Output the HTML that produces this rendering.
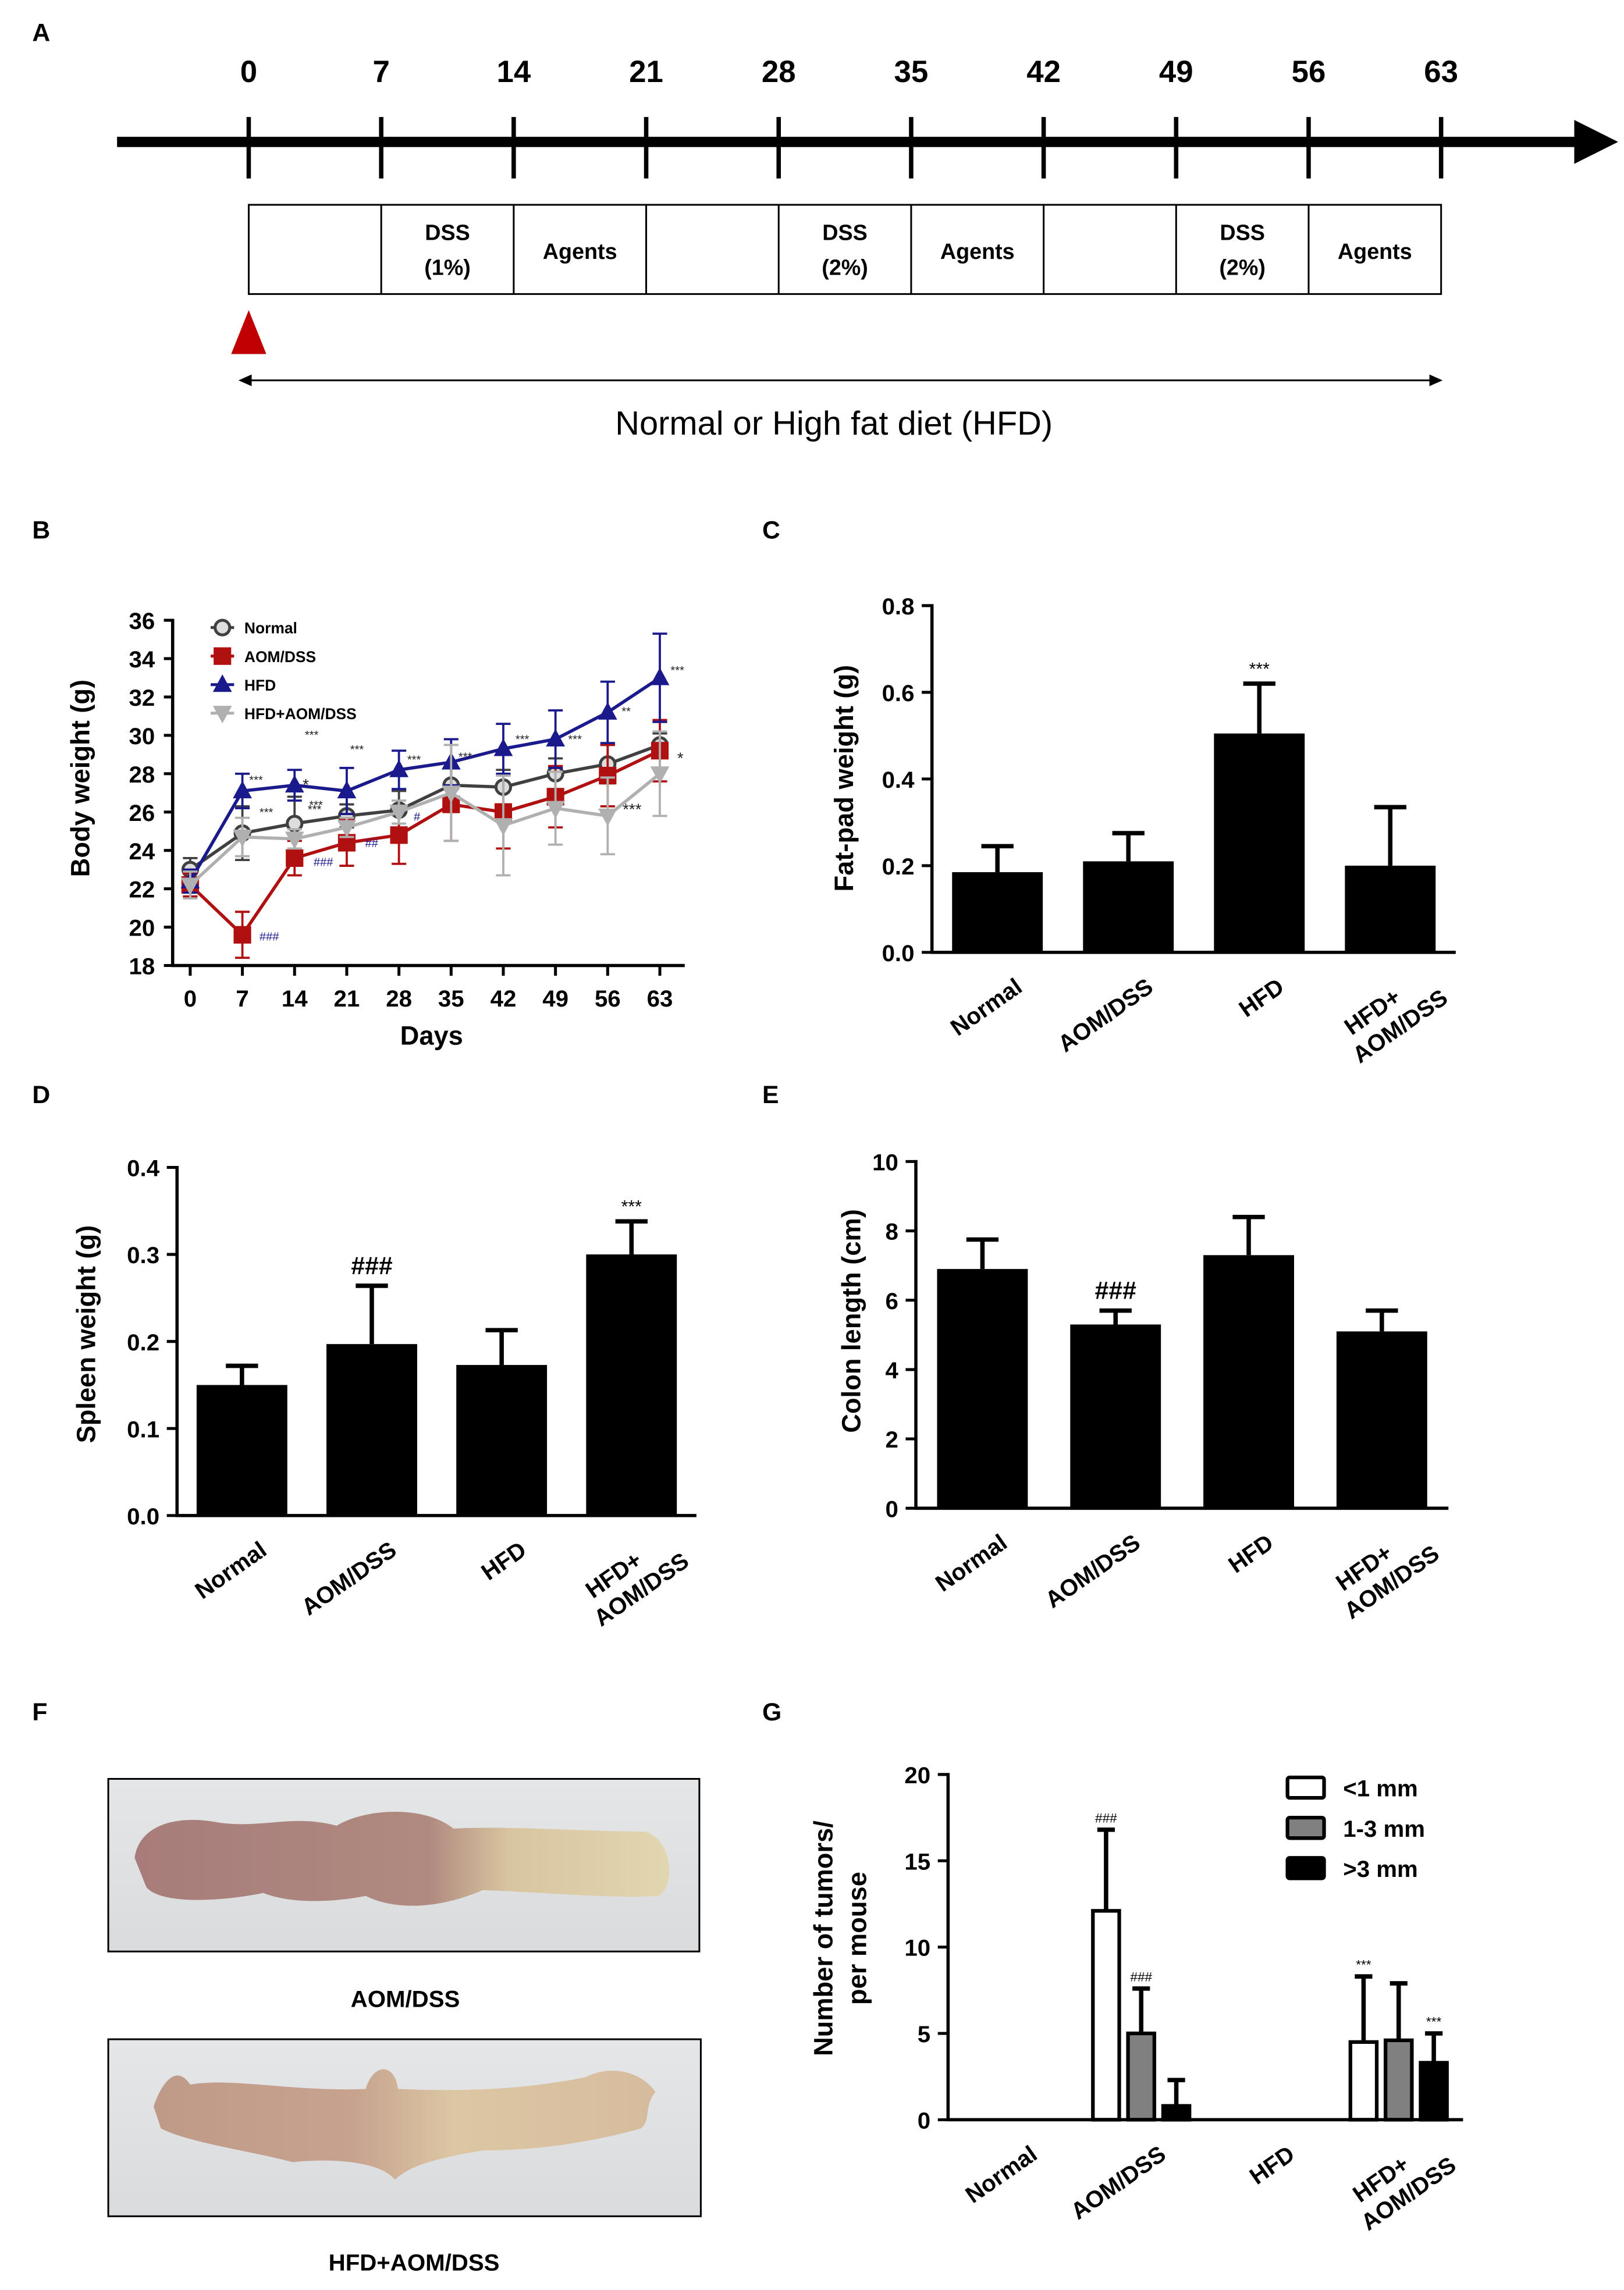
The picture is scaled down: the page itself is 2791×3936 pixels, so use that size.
<!DOCTYPE html>
<html><head><meta charset="utf-8"><style>
html,body{margin:0;padding:0;background:#fff;}
svg{display:block;font-family:"Liberation Sans",Arial,sans-serif;}
</style></head>
<body>
<svg id="fig" xmlns="http://www.w3.org/2000/svg" width="2791" height="3936" viewBox="0 0 1110 1565.4">
<defs>
<linearGradient id="bg1" x1="0" y1="0" x2="0" y2="1"><stop offset="0" stop-color="#e4e6e8"/><stop offset="1" stop-color="#d9dbdd"/></linearGradient>
<linearGradient id="colon1" x1="0" y1="0" x2="1" y2="0"><stop offset="0" stop-color="#a77c7a"/><stop offset="0.55" stop-color="#b08a80"/><stop offset="0.7" stop-color="#d8c5a0"/><stop offset="1" stop-color="#e2d6b0"/></linearGradient>
<linearGradient id="colon2" x1="0" y1="0" x2="1" y2="0"><stop offset="0" stop-color="#c09a88"/><stop offset="0.4" stop-color="#c7a38f"/><stop offset="0.6" stop-color="#dcc7a3"/><stop offset="1" stop-color="#d6bc9e"/></linearGradient>
</defs>
<g id="panelA"></g>
<g id="panelB"></g>
<g id="panelC"></g>
<g id="panelD"></g>
<g id="panelE"></g>
<g id="panelF">
  <rect x="74" y="1216" width="404" height="118" fill="url(#bg1)" stroke="#000" stroke-width="1.2"/>
  <path d="M92,1270 C95,1248 120,1240 150,1246 C180,1250 200,1240 230,1248 C250,1236 290,1234 310,1250 C350,1248 400,1252 440,1252 C460,1256 462,1290 450,1296 C420,1298 380,1294 330,1292 C300,1305 270,1306 250,1296 C230,1300 200,1302 180,1294 C150,1300 110,1302 100,1290 Z" fill="url(#colon1)"/>
  <text x="277" y="1372" text-anchor="middle" font-size="16" font-weight="bold">AOM/DSS</text>
  <rect x="74" y="1394" width="405" height="121" fill="url(#bg1)" stroke="#000" stroke-width="1.2"/>
  <path d="M105,1440 C110,1425 120,1410 130,1425 C160,1420 200,1430 250,1428 C255,1410 270,1410 272,1428 C320,1430 360,1428 400,1420 C420,1410 440,1418 448,1430 C440,1440 445,1450 438,1455 C420,1460 380,1470 330,1470 C300,1475 280,1480 270,1490 C260,1478 230,1475 200,1478 C170,1470 130,1465 110,1455 Z" fill="url(#colon2)"/>
  <text x="283" y="1552" text-anchor="middle" font-size="16" font-weight="bold">HFD+AOM/DSS</text>
</g>
<g id="panelG"></g>
</svg>
<script>
var NS='http://www.w3.org/2000/svg';
function mk(tag,attrs,parent,txt){var e=document.createElementNS(NS,tag);for(var k in attrs)e.setAttribute(k,attrs[k]);if(txt!==undefined)e.textContent=txt;parent.appendChild(e);return e;}
var fig=document.getElementById('fig');

// ---------- panel letters ----------
var panelLetters=['A','B','C','D','E','F','G'];
var letterX=[22,22,521,22,521,22,521];
var letterY=[28,368,368,754,754,1176,1176];
panelLetters.forEach(function(L,i){
  var t=mk('text',{x:letterX[i],y:letterY[i],'font-size':17,'font-weight':'bold'},fig,L);
  
  
});

// ---------- Panel A timeline ----------
var A=document.getElementById('panelA');
var timelineDays=[0,7,14,21,28,35,42,49,56,63];
var boxLabels=['','DSS|(1%)','Agents','','DSS|(2%)','Agents','','DSS|(2%)','Agents'];
function tx(d){return 170+d/63*815;}
var ln=mk('line',{x1:80,y1:97,x2:1080,y2:97,stroke:'#000','stroke-width':7},A);


var ah=mk('polygon',{points:'1076,82 1106,97 1076,112',fill:'#000'},A);


var box=mk('rect',{x:170,y:140,width:815,height:61,fill:'none',stroke:'#000','stroke-width':1.2},A);


timelineDays.forEach(function(d,i){
  var x=tx(d);
  var tk=mk('line',{x1:x,y1:80,x2:x,y2:122,stroke:'#000','stroke-width':3},A);
  
  
  var tl=mk('text',{x:x,y:56,'text-anchor':'middle','font-size':21,'font-weight':'bold'},A,String(d));
  
  
  if(i>0&&i<9){
    var dv=mk('line',{x1:x,y1:140,x2:x,y2:201,stroke:'#000','stroke-width':1.2},A);
    
    
  }
});
boxLabels.forEach(function(s,i){
  if(!s)return;
  var cx=(tx(timelineDays[i])+tx(timelineDays[i+1]))/2;
  var parts=s.split('|');
  var t=mk('text',{x:cx,'text-anchor':'middle','font-size':15,'font-weight':'bold'},A);
  
  
  if(parts.length===1){t.setAttribute('y',177);t.textContent=parts[0];}
  else{mk('tspan',{x:cx,y:164},t,parts[0]);mk('tspan',{x:cx,y:188},t,parts[1]);}
});
var tri=mk('polygon',{points:'170,212 158,242 182,242',fill:'#c00000'},A);


var dl=mk('line',{x1:168,y1:260,x2:982,y2:260,stroke:'#000','stroke-width':1.2},A);


var dh1=mk('polygon',{points:'163,260 172,256 172,264',fill:'#000'},A);


var dh2=mk('polygon',{points:'986,260 977,256 977,264',fill:'#000'},A);


var dt=mk('text',{x:570,y:297,'text-anchor':'middle','font-size':23},A,'Normal  or High fat diet (HFD)');


</script>

<script>
// ---------- Panel B body weight ----------
var bwDays=[0,7,14,21,28,35,42,49,56,63];
var bwTicks=[18,20,22,24,26,28,30,32,34,36];
var normalMean=[23.0,24.9,25.4,25.8,26.1,27.4,27.3,28.0,28.5,29.5];
var normalErr=[0.6,1.4,1.4,0.6,1.0,0.9,0.9,0.8,1.0,0.6];
var aomMean=[22.2,19.6,23.6,24.4,24.8,26.4,26.0,26.8,27.9,29.2];
var aomErr=[0.6,1.2,0.9,1.2,1.5,1.9,1.9,1.6,1.6,1.6];
var hfdMean=[22.4,27.1,27.4,27.1,28.2,28.6,29.3,29.8,31.2,33.0];
var hfdErr=[0.6,0.9,0.8,1.2,1.0,1.2,1.3,1.5,1.6,2.3];
var hfdAomMean=[22.2,24.7,24.6,25.2,26.0,27.0,25.3,26.2,25.8,28.0];
var hfdAomErr=[0.7,1.0,0.5,0.5,0.6,2.5,2.6,1.9,2.0,2.2];
(function(){
  var B=document.getElementById('panelB');
  function X(d){return 130+d/63*321;}
  function Y(v){return 660-(v-18)/18*236;}
  var ya=mk('line',{x1:118,y1:Y(36)-1,x2:118,y2:661,stroke:'#000','stroke-width':2.2},B);
  
  
  var xa=mk('line',{x1:117,y1:660,x2:468,y2:660,stroke:'#000','stroke-width':2.2},B);
  
  
  bwTicks.forEach(function(v){
    var t=mk('line',{x1:112,y1:Y(v),x2:118,y2:Y(v),stroke:'#000','stroke-width':2},B);
    
    
    var l=mk('text',{x:97,y:Y(v)+6,'text-anchor':'middle','font-size':16,'font-weight':'bold'},B,String(v));
    
    
  });
  bwDays.forEach(function(d){
    var t=mk('line',{x1:X(d),y1:660,x2:X(d),y2:667,stroke:'#000','stroke-width':2},B);
    
    
    var l=mk('text',{x:X(d),y:688,'text-anchor':'middle','font-size':16,'font-weight':'bold'},B,String(d));
    
    
  });
  var yl=mk('text',{x:0,y:0,transform:'translate(61,532) rotate(-90)','text-anchor':'middle','font-size':18,'font-weight':'bold'},B,'Body weight (g)');
  
  
  var xl=mk('text',{x:295,y:714,'text-anchor':'middle','font-size':18,'font-weight':'bold'},B,'Days');
  
  
  var series=[
    {name:'Normal',m:normalMean,e:normalErr,c:'#404040',mk:'circle'},
    {name:'AOM/DSS',m:aomMean,e:aomErr,c:'#b01010',mk:'square'},
    {name:'HFD',m:hfdMean,e:hfdErr,c:'#1a1a8c',mk:'tri'},
    {name:'HFD+AOM/DSS',m:hfdAomMean,e:hfdAomErr,c:'#b0b0b0',mk:'dtri'}
  ];
  function marker(s,x,y,g){
    var e;
    if(s.mk==='circle')e=mk('circle',{cx:x,cy:y,r:5,fill:'#ddd',stroke:s.c,'stroke-width':2},g);
    else if(s.mk==='square')e=mk('rect',{x:x-6,y:y-6,width:12,height:12,fill:s.c},g);
    else if(s.mk==='tri')e=mk('polygon',{points:(x)+','+(y-7)+' '+(x-6.5)+','+(y+5)+' '+(x+6.5)+','+(y+5),fill:s.c},g);
    else e=mk('polygon',{points:(x)+','+(y+7)+' '+(x-6.5)+','+(y-5)+' '+(x+6.5)+','+(y-5),fill:s.c},g);
    return e;
  }
  series.forEach(function(s,si){
    var g=mk('g',{},B);
    
    
    s.m.forEach(function(v,i){
      var x=X(bwDays[i]);
      var eb=mk('path',{d:'M'+x+','+Y(v-s.e[i])+'V'+Y(v+s.e[i])+'M'+(x-5)+','+Y(v-s.e[i])+'H'+(x+5)+'M'+(x-5)+','+Y(v+s.e[i])+'H'+(x+5),stroke:s.c,'stroke-width':1.5,fill:'none'},g);
      
      
    });
    var pts=s.m.map(function(v,i){return X(bwDays[i])+','+Y(v);}).join(' ');
    var pl=mk('polyline',{points:pts,fill:'none',stroke:s.c,'stroke-width':2.2},g);
    
    
    s.m.forEach(function(v,i){
      var p=marker(s,X(bwDays[i]),Y(v),g);
      
      
    });
    // legend
    var ly=429+si*19.5;
    var ll=mk('line',{x1:144,y1:ly,x2:160,y2:ly,stroke:s.c,'stroke-width':2},B);
    
    
    var lm=marker(s,152,ly,B);
    
    
    var lt=mk('text',{x:167,y:ly+4,'font-size':10.5,'font-weight':'bold'},B,s.name);
    
    
  });
  var annText=['###','###','##','#','***','***','***','***','***','***','***','**','***','***','***','***','*','***','*'];
  var annX=[184,221,254,285,175,213,244,283,318,357,393,428,463,182,216,215,209,432,465];
  var annY=[643,592,579,561,536,505,515,522,520,508,508,489,461,558,553,556,540,557,522];
  annText.forEach(function(s,i){
    var a=mk('text',{x:annX[i],y:annY[i],'text-anchor':'middle','font-size':s==='*'||s==='***'&&i>16?11:8,fill:i<4?'#1a1a8c':'#222'},B,s);
    
    
  });
})();
</script>

<script>
// ---------- bar charts C, D, E ----------
var groupNames=['Normal','AOM/DSS','HFD','HFD+|AOM/DSS'];
var fatPadValues=[0.185,0.21,0.505,0.2];
var fatPadErrors=[0.06,0.065,0.115,0.135];
var fatPadTicks=['0.0','0.2','0.4','0.6','0.8'];
var spleenValues=[0.15,0.197,0.173,0.30];
var spleenErrors=[0.022,0.067,0.04,0.038];
var spleenTicks=['0.0','0.1','0.2','0.3','0.4'];
var colonValues=[6.9,5.3,7.3,5.1];
var colonErrors=[0.85,0.4,1.1,0.6];
var colonTicks=['0','2','4','6','8','10'];
var tumorSmall=[0,12.1,0,4.5];
var tumorSmallErr=[0,4.7,0,3.8];
var tumorMid=[0,5.0,0,4.6];
var tumorMidErr=[0,2.6,0,3.3];
var tumorLarge=[0,0.8,0,3.3];
var tumorLargeErr=[0,1.5,0,1.7];
var tumorTicks=['0','5','10','15','20'];

function axes(P,cfg){
  var n=cfg.ticks.length-1;
  function Y(v){return cfg.y0-v/cfg.max*(cfg.y0-cfg.yTop);}
  var ya=mk('line',{x1:cfg.x0,y1:cfg.yTop-1,x2:cfg.x0,y2:cfg.y0+1,stroke:'#000','stroke-width':2.2},P);
  
  
  var xa=mk('line',{x1:cfg.x0-1,y1:cfg.y0,x2:cfg.x1,y2:cfg.y0,stroke:'#000','stroke-width':2.2},P);
  
  
  cfg.ticks.forEach(function(s){
    var v=parseFloat(s);
    var t=mk('line',{x1:cfg.x0-7,y1:Y(v),x2:cfg.x0,y2:Y(v),stroke:'#000','stroke-width':2},P);
    
    
    var l=mk('text',{x:cfg.x0-12,y:Y(v)+6,'text-anchor':'end','font-size':16,'font-weight':'bold'},P,s);
    
    
  });
  var lines=cfg.title.split('|');
  lines.forEach(function(s,i){
    var yl=mk('text',{x:0,y:0,transform:'translate('+(cfg.tx+i*23)+','+cfg.ty+') rotate(-90)','text-anchor':'middle','font-size':18,'font-weight':'bold'},P,s);
    
    
  });
  var bw=(cfg.x1-cfg.x0)/groupNames.length;
  groupNames.forEach(function(g,i){
    var cx=cfg.x0+bw*(i+0.5);
    var parts=g.split('|');
    var t=mk('text',{x:0,y:0,transform:'translate('+(cx+18)+','+(cfg.y0+26)+') rotate(-35)','text-anchor':'end','font-size':16,'font-weight':'bold'},P);
    
    
    if(parts.length===1){t.textContent=parts[0];}
    else{mk('tspan',{x:-12,y:0},t,parts[0]);mk('tspan',{x:14,y:19},t,parts[1]);}
  });
  return {Y:Y,bw:bw};
}
function barChart(id,cfg,vals,errs,marks){
  var P=document.getElementById(id);
  var a=axes(P,cfg);
  vals.forEach(function(v,i){
    var cx=cfg.x0+a.bw*(i+0.5);
    var w=62;
    var top=a.Y(v+errs[i]);
    var eb=mk('path',{d:'M'+cx+','+a.Y(v)+'V'+top+'M'+(cx-11)+','+top+'H'+(cx+11),stroke:'#000','stroke-width':3,fill:'none'},P);
    
    
    var r=mk('rect',{x:cx-w/2,y:a.Y(v),width:w,height:cfg.y0-a.Y(v),fill:'#000'},P);
    
    
    if(marks[i]){
      var m=mk('text',{x:cx,y:top-(marks[i]==='###'?8:6),'text-anchor':'middle','font-size':marks[i]==='###'?17:12,'font-weight':marks[i]==='###'?'bold':'normal'},P,marks[i]);
      
      
    }
  });
}
barChart('panelC',{x0:637,x1:995,y0:651,yTop:414,max:0.8,ticks:fatPadTicks,title:'Fat-pad weight (g)',tx:583,ty:532},fatPadValues,fatPadErrors,['','','***','']);
barChart('panelD',{x0:121,x1:476,y0:1036,yTop:798,max:0.4,ticks:spleenTicks,title:'Spleen weight (g)',tx:65,ty:912},spleenValues,spleenErrors,['','###','','***']);
barChart('panelE',{x0:626,x1:990,y0:1031,yTop:794,max:10,ticks:colonTicks,title:'Colon length (cm)',tx:588,ty:903},colonValues,colonErrors,['','###','','']);

// ---------- Panel G ----------
(function(){
  var P=document.getElementById('panelG');
  var cfg={x0:648,x1:1000,y0:1449,yTop:1213,max:20,ticks:tumorTicks,title:'Number of tumors/|per mouse',tx:569,ty:1325};
  var a=axes(P,cfg);
  var sets=[{v:tumorSmall,e:tumorSmallErr,f:'#fff',n:'small'},{v:tumorMid,e:tumorMidErr,f:'#808080',n:'medium'},{v:tumorLarge,e:tumorLargeErr,f:'#000',n:'large'}];
  var marks=[['','###','','***'],['','###','',''],['','','','***']];
  groupNames.forEach(function(g,i){
    var cx=cfg.x0+a.bw*(i+0.5);
    sets.forEach(function(s,j){
      var v=s.v[i];
      if(v<=0)return;
      var bx=cx+(j-1)*24;
      var top=a.Y(v+s.e[i]);
      var eb=mk('path',{d:'M'+bx+','+a.Y(v)+'V'+top+'M'+(bx-6)+','+top+'H'+(bx+6),stroke:'#000','stroke-width':3,fill:'none'},P);
      
      
      var r=mk('rect',{x:bx-9,y:a.Y(v),width:18,height:cfg.y0-a.Y(v),fill:s.f,stroke:'#000','stroke-width':2.5},P);
      
      
      if(marks[j][i]){
        var m=mk('text',{x:bx,y:top-5,'text-anchor':'middle','font-size':9},P,marks[j][i]);
        
        
      }
    });
  });
  var legendLabels=['<1 mm','1-3 mm','>3 mm'];
  legendLabels.forEach(function(s,j){
    var ly=1222+j*27.5;
    var r=mk('rect',{x:880,y:ly-7,width:25,height:14,fill:sets[j].f,stroke:'#000','stroke-width':2.5,rx:1.5},P);
    
    
    var t=mk('text',{x:918,y:ly+6,'font-size':16,'font-weight':'bold'},P,s);
    
    
  });
})();
</script>
</body></html>
